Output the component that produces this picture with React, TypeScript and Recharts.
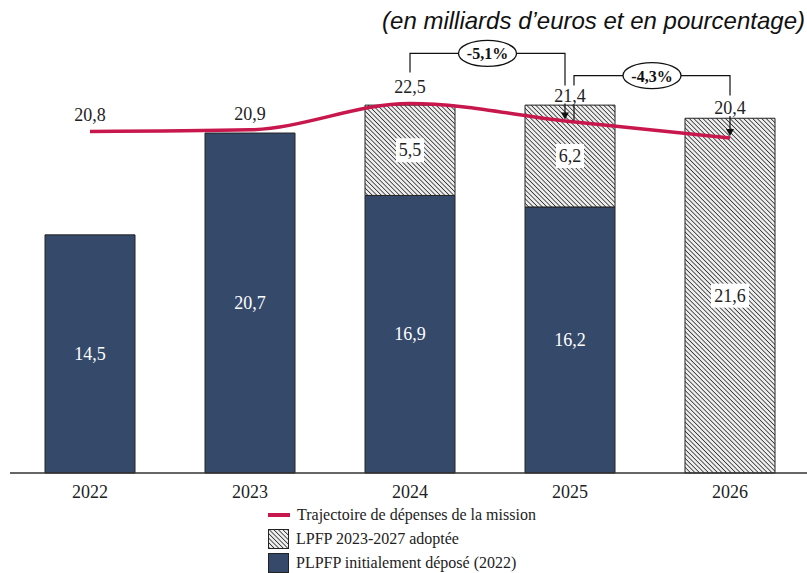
import { Bar, ComposedChart, LabelList, Line, ReferenceLine, XAxis, YAxis } from 'recharts';

const years = ['2022', '2023', '2024', '2025', '2026'];
const plpfpInitial = [14.5, 20.7, 16.9, 16.2, null];
const lpfpAdoptee = [null, null, 5.5, 6.2, 21.6];
const trajectoire = [20.8, 20.9, 22.5, 21.4, 20.4];
const evolutionLabels = ['-5,1%', '-4,3%'];

const NAVY = '#354a6b';
const RED = '#c8174c';
const FONT = '"Liberation Serif", "DejaVu Serif", serif';

const data = years.map((year, i) => ({
  year,
  plpfp: plpfpInitial[i],
  lpfp: lpfpAdoptee[i],
  trajectoire: trajectoire[i],
}));

const fmt = (v: number) => v.toFixed(1).replace('.', ',');

// label offsets for the line values; the last two carry a small arrow
const lineLabelDy = [-16, -16, -16, -26, -30];
const arrowDx = [0, 0, 0, -5, 0];

function Arrow({ x, y1, y2 }: { x: number; y1: number; y2: number }) {
  return (
    <g>
      <line x1={x} y1={y1} x2={x} y2={y2 - 6} stroke="#111" strokeWidth={1.2} />
      <path d={`M${x - 4},${y2 - 7} L${x + 4},${y2 - 7} L${x},${y2} Z`} fill="#111" />
    </g>
  );
}

function LineValueLabel(props: any) {
  const { x, y, index, value } = props;
  const dy = lineLabelDy[index];
  const hasArrow = dy < -16;
  return (
    <g>
      <text x={x} y={y + dy + 6} textAnchor="middle" fontFamily={FONT} fontSize={18} fill="#222">
        {fmt(value)}
      </text>
      {hasArrow && <Arrow x={x + arrowDx[index]} y1={y + dy + 8} y2={y - 2} />}
    </g>
  );
}

function NavyLabel(props: any) {
  const { x, y, width, height, value } = props;
  if (value == null) return null;
  return (
    <text
      x={x + width / 2}
      y={y + height / 2 + 6}
      textAnchor="middle"
      fontFamily={FONT}
      fontSize={18}
      fill="#fff"
    >
      {fmt(value)}
    </text>
  );
}

function HatchLabel(props: any) {
  const { x, y, width, height, value } = props;
  if (value == null) return null;
  const cx = x + width / 2;
  const cy = y + height / 2;
  const w = value >= 10 ? 38 : 28;
  return (
    <g>
      <rect x={cx - w / 2} y={cy - 12} width={w} height={24} fill="#fff" />
      <text x={cx} y={cy + 6} textAnchor="middle" fontFamily={FONT} fontSize={18} fill="#222">
        {fmt(value)}
      </text>
    </g>
  );
}

// bracket between two years; left drop may be broken around a value label
function bracketShape(
  label: string,
  dxLeft: number,
  dxRight: number,
  dropLeft: number,
  dropRight: number,
  gapLeft?: [number, number],
) {
  return (p: any) => {
    const xl = p.x1 + dxLeft;
    const xr = p.x2 + dxRight;
    const y = p.y1;
    const cx = (xl + xr) / 2;
    const leftDrop = gapLeft
      ? `M${xl},${y + dropLeft} L${xl},${y + gapLeft[1]} M${xl},${y + gapLeft[0]} L${xl},${y}`
      : `M${xl},${y + dropLeft} L${xl},${y}`;
    return (
      <g>
        <path
          d={`${leftDrop} L${xr},${y} L${xr},${y + dropRight}`}
          fill="none"
          stroke="#111"
          strokeWidth={1.2}
        />
        <ellipse cx={cx} cy={y} rx={29} ry={13} fill="#fff" stroke="#111" strokeWidth={1.3} />
        <text x={cx} y={y + 6} textAnchor="middle" fontFamily={FONT} fontWeight="bold" fontSize={16} fill="#111">
          {label}
        </text>
      </g>
    );
  };
}

function LegendBox() {
  const row = { display: 'flex', alignItems: 'center', height: 24 } as const;
  return (
    <div
      style={{
        position: 'absolute',
        left: 268,
        top: 503,
        fontFamily: FONT,
        fontSize: 16,
        color: '#222',
        lineHeight: '24px',
      }}
    >
      <div style={row}>
        <span style={{ width: 22, height: 4, background: RED, marginRight: 7 }} />
        Trajectoire de dépenses de la mission
      </div>
      <div style={row}>
        <svg width={21} height={20} style={{ marginRight: 7 }}>
          <rect x={0.5} y={0.5} width={20} height={19} fill="url(#hatch)" stroke="#222" />
        </svg>
        LPFP 2023-2027 adoptée
      </div>
      <div style={row}>
        <svg width={21} height={20} style={{ marginRight: 7 }}>
          <rect x={0.5} y={0.5} width={20} height={19} fill={NAVY} stroke="#222" />
        </svg>
        PLPFP initialement déposé (2022)
      </div>
    </div>
  );
}

export default function App() {
  return (
    <div style={{ position: 'absolute', left: 0, top: 0, width: 807, height: 573, background: '#fff' }}>
      <svg width={0} height={0} style={{ position: 'absolute' }}>
        <defs>
          <pattern id="hatch" width={3.2} height={3.2} patternUnits="userSpaceOnUse" patternTransform="rotate(-45)">
            <rect width={3.2} height={3.2} fill="#eeeeee" />
            <line x1={0} y1={0} x2={0} y2={3.2} stroke="#333" strokeWidth={1.6} />
          </pattern>
        </defs>
      </svg>
      <div
        style={{
          position: 'absolute',
          right: 2,
          top: 7,
          fontFamily: '"Liberation Sans", Arial, sans-serif',
          fontStyle: 'italic',
          fontSize: 24,
          lineHeight: '28px',
          color: '#111',
        }}
      >
        (en milliards d’euros et en pourcentage)
      </div>
      <ComposedChart
        width={807}
        height={573}
        data={data}
        margin={{ top: 46, right: -3, bottom: 70, left: 10 }}
      >
        <XAxis
          dataKey="year"
          height={30}
          tickLine={false}
          axisLine={{ stroke: '#333', strokeWidth: 1.5 }}
          tick={{ fontFamily: FONT, fontSize: 18, fill: '#222' }}
          tickMargin={6}
        />
        <YAxis hide domain={[0, 26]} />
        <Bar dataKey="plpfp" stackId="a" barSize={90} fill={NAVY} stroke="#222" strokeWidth={1} isAnimationActive={false}>
          <LabelList dataKey="plpfp" content={NavyLabel} />
        </Bar>
        <Bar dataKey="lpfp" stackId="a" barSize={90} fill="url(#hatch)" stroke="#222" strokeWidth={1} isAnimationActive={false}>
          <LabelList dataKey="lpfp" content={HatchLabel} />
        </Bar>
        <Line
          dataKey="trajectoire"
          type="monotone"
          stroke={RED}
          strokeWidth={3.5}
          dot={false}
          activeDot={false}
          isAnimationActive={false}
        >
          <LabelList dataKey="trajectoire" content={LineValueLabel} />
        </Line>
        <ReferenceLine
          segment={[{ x: '2024', y: 25.55 }, { x: '2025', y: 25.55 }]}
          ifOverflow="visible"
          shape={bracketShape(evolutionLabels[0], 0, -5, 19, 32)}
        />
        <ReferenceLine
          segment={[{ x: '2025', y: 24.2 }, { x: '2026', y: 24.2 }]}
          ifOverflow="visible"
          shape={bracketShape(evolutionLabels[1], 4, 0, 45, 20, [10, 29])}
        />
      </ComposedChart>
      <LegendBox />
    </div>
  );
}
